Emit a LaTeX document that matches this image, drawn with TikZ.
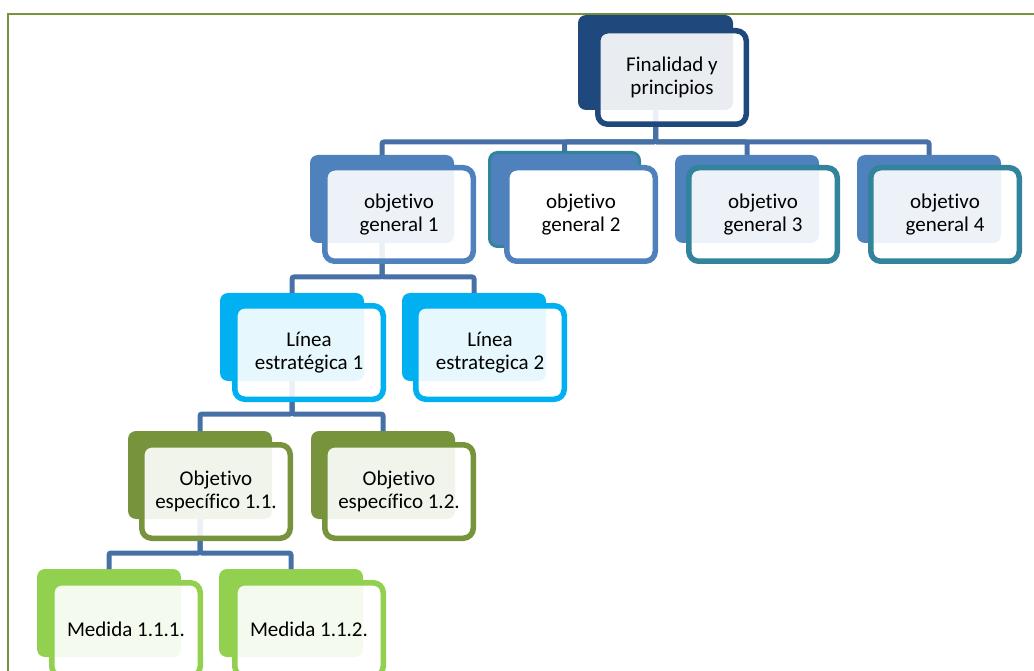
\documentclass[tikz,border=0pt]{standalone}
\usepackage{fontspec}
\setmainfont{Carlito}[Ligatures=NoCommon]
\usetikzlibrary{calc}

\definecolor{navy}{HTML}{1F497D}
\definecolor{blu}{HTML}{4F81BD}
\definecolor{tealb}{HTML}{31849B}
\definecolor{cyanb}{HTML}{00B0F0}
\definecolor{oliveg}{HTML}{77933C}
\definecolor{limeg}{HTML}{92D050}
\definecolor{bus}{HTML}{4770A6}

\tikzset{
    back/.style = {fill=#1, rounded corners=8pt, anchor=north west, inner sep=0pt, outer sep=0pt,
                   minimum width=144pt, minimum height=88pt},
    front/.style = {draw=#1, line width=5.5pt, fill=white, fill opacity=0.9, text opacity=1,
                    rounded corners=10pt, anchor=north west, inner sep=0pt, outer sep=0pt,
                    minimum width=148.5pt, minimum height=93.5pt, align=center,
                    font=\fontsize{21}{23.5}\selectfont},
    link/.style = {draw=bus, line width=5pt, rounded corners=2pt}
}

\begin{document}
\begin{tikzpicture}[x = 1pt, y = -1pt]
    \useasboundingbox (0,0) rectangle (1034,671);
    \draw[oliveg, line width=2.5pt] (1040,14) -- (8,14) -- (8,680);

    % back boxes
    \node[back=navy, minimum width=155pt, minimum height=95pt] (fin-b) at (578,15) {};
    \node[back=blu] (og1-b) at (310,155) {};
    \node[back=blu, draw=tealb, line width=3pt, minimum width=150pt, minimum height=94pt] (og2-b) at (489.5,152.5) {};
    \node[back=blu] (og3-b) at (675,155) {};
    \node[back=blu] (og4-b) at (857,155) {};
    \node[back=cyanb] (l1-b) at (220,293) {};
    \node[back=cyanb] (l2-b) at (402,293) {};
    \node[back=oliveg] (oe1-b) at (128,431) {};
    \node[back=oliveg] (oe2-b) at (311,431) {};
    \node[back=limeg] (m1-b) at (37,569) {};
    \node[back=limeg] (m2-b) at (219,569) {};

    % connectors
    \foreach \c in {og1,og2,og3,og4}
        \draw[link] (fin-b.south) -- ++(0,32) -| (\c-b.north);
    \foreach \c in {l1,l2}
        \draw[link] (og1-b.south) -- ++(0,34) -| (\c-b.north);
    \foreach \c in {oe1,oe2}
        \draw[link] (l1-b.south) -- ++(0,33) -| (\c-b.north);
    \foreach \c in {m1,m2}
        \draw[link] (oe1-b.south) -- ++(0,34) -| (\c-b.north);

    % front boxes
    \node[front=navy] (fin) at ($(fin-b.north west)+(19.75,15.75)$) {Finalidad y\\principios};
    \node[front=blu] (og1) at ($(og1-b.north west)+(14.75,12.75)$) {objetivo\\general 1};
    \node[front=blu, fill opacity=1] (og2) at ($(og2-b.north west)+(17.25,15.25)$) {objetivo\\general 2};
    \node[front=tealb] (og3) at ($(og3-b.north west)+(13.75,12.75)$) {objetivo\\general 3};
    \node[front=tealb] (og4) at ($(og4-b.north west)+(13.75,12.75)$) {objetivo\\general 4};
    \node[front=cyanb] (l1) at ($(l1-b.north west)+(14.75,12.75)$) {Línea\\estratégica 1};
    \node[front=cyanb] (l2) at ($(l2-b.north west)+(13.75,12.75)$) {Línea\\estrategica 2};
    \node[front=oliveg] (oe1) at ($(oe1-b.north west)+(13.75,13.75)$) {Objetivo\\específico 1.1.};
    \node[front=oliveg] (oe2) at ($(oe2-b.north west)+(13.75,13.75)$) {Objetivo\\específico 1.2.};
    \node[front=limeg] (m1) at ($(m1-b.north west)+(14.75,13.75)$) {Medida 1.1.1.};
    \node[front=limeg] (m2) at ($(m2-b.north west)+(15.75,13.75)$) {Medida 1.1.2.};
\end{tikzpicture}
\end{document}
